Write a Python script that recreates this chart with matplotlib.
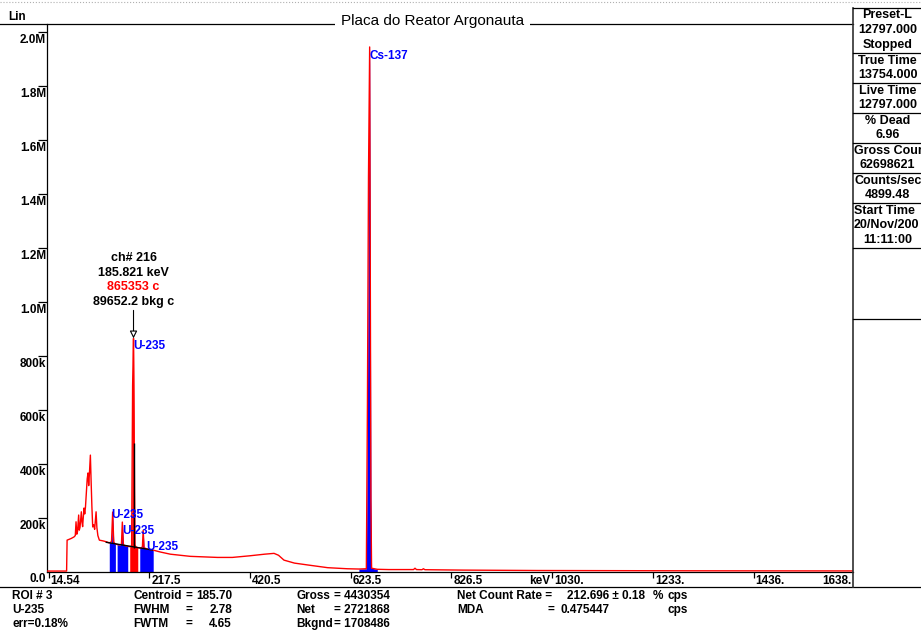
import numpy as np
import matplotlib
matplotlib.use("Agg")
import matplotlib.pyplot as plt
from matplotlib.transforms import ScaledTranslation

# gamma spectrum, energy (keV) vs counts per channel
energy_kev = [11.5, 51.0, 52.0, 60.0, 66.0, 68.5,
              70.0, 71.5, 73.0, 75.3, 76.5, 78.0, 80.7, 82.0, 83.3, 84.5, 86.1, 87.5,
              89.0, 91.0, 92.5, 94.2, 95.5, 97.0, 98.9, 100.5, 102.0, 103.6, 105.5,
              107.5, 110.4, 112.0, 114.0, 117.0, 125.0, 131.0,
              137.0, 141.5, 143.8, 146.0, 149.3,
              152.8, 158.0, 161.5, 163.3, 165.5, 170.0, 174.2,
              178.2, 182.0, 184.0, 185.821, 187.0, 188.5, 191.0, 194.4,
              198.4, 202.0, 203.8, 205.3, 207.0, 212.0, 225.5,
              240.0, 260.0, 300.0, 355.0, 385.0, 420.0, 450.0, 469.0, 478.0, 489.0,
              510.0, 537.0, 577.0, 617.0,
              640.0, 655.0, 657.2, 659.3, 661.66, 663.0, 664.2, 665.5, 677.0,
              700.0, 750.0, 753.0, 756.0, 767.0, 770.0, 773.0, 850.0, 1000.0, 1300.0, 1635.6]
counts = [3500, 3500, 118000, 124000, 130000, 135000,
          186000, 140000, 150000, 211000, 155000, 165000, 223000, 185000, 168000, 200000, 237000, 215000,
          240000, 300000, 345000, 367000, 320000, 365000, 433000, 330000, 240000, 167000, 175000,
          158000, 223000, 165000, 135000, 118000, 115000, 112000,
          108000, 112000, 222000, 110000, 104000,
          102000, 100000, 103000, 185000, 100000, 97000, 95000,
          94000, 95000, 690000, 865353, 540000, 100000, 92000, 90000,
          89000, 88000, 95000, 155000, 90000, 86000, 81000,
          74000, 66000, 58000, 54000, 54000, 60000, 66000, 69000, 62000, 44000,
          33000, 26000, 16000, 12000,
          11000, 12000, 626000, 1464000, 1945000, 1060000, 267000, 14000, 10000,
          9000, 9000, 14000, 9000, 8500, 12000, 8500, 7000, 5500, 4500, 4000]

# regions of interest (keV); the selected one is drawn in red
roi_lo = [137.0, 152.8, 178.2, 198.4, 640.0]
roi_hi = [149.3, 174.2, 194.4, 225.5, 677.0]
roi_selected = [False, False, True, False, False]

# identified peaks
peak_names = ["U-235", "U-235", "U-235", "U-235", "Cs-137"]
peak_kev = [143.8, 163.3, 185.821, 205.3, 661.66]
label_dx = [-1, 0, 0, 3, 0]      # label offsets, pixels
label_dy = [3, -3, -2, -11, -3]

# ROI continuum line under the U-235 group
bkg_kev = [131.0, 224.0]
bkg_counts = [110000, 81500]

# cursor readout
cursor_channel = 216
cursor_kev = 185.821
cursor_counts = 865353
cursor_bkg = 89652.2
cursor_bar_top = 478000

x_ticks = [14.54, 217.5, 420.46, 623.42, 826.38, 1029.34, 1232.3, 1435.26, 1638.22]
x_tick_labels = ["14.54", "217.5", "420.5", "623.5", "826.5", "1030.", "1233.", "1436.", "1638."]
y_ticks = [0, 200e3, 400e3, 600e3, 800e3, 1.0e6, 1.2e6, 1.4e6, 1.6e6, 1.8e6, 2.0e6]
y_tick_labels = ["0.0", "200k", "400k", "600k", "800k", "1.0M", "1.2M", "1.4M", "1.6M", "1.8M", "2.0M"]

panel_rows = [["Preset-L", "12797.000", "Stopped"],
              ["True Time", "13754.000"],
              ["Live Time", "12797.000"],
              ["% Dead", "6.96"],
              ["Gross Cour", "62698621"],
              ["Counts/sec", "4899.48"],
              ["Start Time", "20/Nov/200", "11:11:00"]]

roi_number = 3
roi_nuclide = "U-235"
roi_err = "0.18%"
centroid = "185.70"
fwhm = "2.78"
fwtm = "4.65"
gross = "4430354"
net = "2721868"
bkgnd = "1708486"
net_rate = "212.696 ± 0.18"
mda = "0.475447"

plt.rcParams['font.family'] = ['Liberation Sans', 'DejaVu Sans']
ui = dict(fontsize=8.5, fontweight='bold')
ui_big = dict(fontsize=9, fontweight='bold')
W, H = 921, 632

E = np.array(energy_kev)
C = np.array(counts, dtype=float)

fig = plt.figure(figsize=(W / 100, H / 100), dpi=100)
fig.patch.set_facecolor('white')

# spectrum axes, pixel box 47..853 x 24..572
ax = fig.add_axes([47 / W, 60 / H, 806 / W, 548 / H])
ax.set_xlim(11.5, 1635.6)
ax.set_ylim(0, 2.03e6)
for s in ['top', 'right']:
    ax.spines[s].set_visible(False)
for s in ['left', 'bottom']:
    ax.spines[s].set_linewidth(0.9)

for lo, hi, sel in zip(roi_lo, roi_hi, roi_selected):
    m = (E >= lo) & (E <= hi)
    ax.fill_between(E[m], 0, C[m], color='#ff0000' if sel else '#0000ff', lw=0, zorder=2)

ax.plot(E, C, color='#ff0000', lw=1.0, zorder=3)
ax.plot(bkg_kev, bkg_counts, color='black', lw=1.0, zorder=4)
ax.vlines(cursor_kev + 0.6, cursor_bkg, cursor_bar_top, color='black', lw=1.0, zorder=4)

# peak labels
for name, pk, dx, dy in zip(peak_names, peak_kev, label_dx, label_dy):
    top = C[energy_kev.index(pk)]
    ax.annotate(name, xy=(pk, top), xytext=(dx * 0.72, dy * 0.72), textcoords='offset points',
                ha='left', va='top', color='#0000ff', zorder=5, **ui)

# cursor marker and readout
ax.annotate('', xy=(cursor_kev, cursor_counts), xytext=(0, 28 * 0.72), textcoords='offset points',
            arrowprops=dict(arrowstyle='-|>', fc='white', ec='black', lw=0.8,
                            mutation_scale=11, shrinkA=0, shrinkB=0), zorder=6)
readout = [("ch# %d" % cursor_channel, 'black'),
           ("%.3f keV" % cursor_kev, 'black'),
           ("%d c" % cursor_counts, '#ff0000'),
           ("%.1f bkg c" % cursor_bkg, 'black')]
for i, (txt, col) in enumerate(readout):
    ax.annotate(txt, xy=(cursor_kev, cursor_counts), xytext=(0, (80.4 - 14.7 * i) * 0.72),
                textcoords='offset points', ha='center', va='center', color=col, zorder=6, **ui_big)

# ticks: marks from matplotlib, labels placed beside them
ax.set_xticks([t for t in x_ticks if t <= ax.get_xlim()[1]])
ax.set_yticks(y_ticks[1:])
ax.tick_params(axis='y', direction='out', length=6.5, width=0.9, labelleft=False)
ax.tick_params(axis='x', direction='out', length=4.5, width=0.9, labelbottom=False)

px = lambda dx, dy: ScaledTranslation(dx / 100, dy / 100, fig.dpi_scale_trans)
for v, lab in zip(y_ticks, y_tick_labels):
    ax.text(0, v, lab, transform=ax.get_yaxis_transform() + px(-1, -1.5),
            ha='right', va='top', **ui)
xmax = ax.get_xlim()[1]
for v, lab in zip(x_ticks, x_tick_labels):
    if v <= xmax:
        ax.text(v, 0, lab, transform=ax.get_xaxis_transform() + px(2, -3),
                ha='left', va='top', **ui)
    else:
        ax.text(1, 0, lab, transform=ax.transAxes + px(-2, -3), ha='right', va='top', **ui)
ax.text(x_ticks[5], 0, "keV", transform=ax.get_xaxis_transform() + px(-1.5, -3),
        ha='right', va='top', **ui)

# window frame, status panel and ROI report, in pixel coordinates
ov = fig.add_axes([0, 0, 1, 1])
ov.set_xlim(0, W)
ov.set_ylim(H, 0)
ov.axis('off')
ov.patch.set_visible(False)

ov.plot([0, W], [2, 2], color='#b0b0b0', lw=0.8, ls=':')
ov.plot([0, 853], [24, 24], color='black', lw=0.9)
ov.plot([0, W], [587, 587], color='black', lw=0.9)
ov.plot([853, 853], [8, 587], color='#303030', lw=1.2)
ov.plot([853, W], [8, 8], color='black', lw=0.9)
ov.text(432.5, 21.5, "Placa do Reator Argonauta", fontsize=11, ha='center', va='center',
        bbox=dict(fc='white', ec='none', pad=4))
ov.text(8, 17, "Lin", ha='left', va='center', **ui)

top = 8
for row in panel_rows:
    for i, txt in enumerate(row):
        y = top + 7.5 + 14.7 * i
        if len(txt) >= 10:
            ov.text(854, y, txt, ha='left', va='center', **ui_big)
        else:
            ov.text(887.5, y, txt, ha='center', va='center', **ui_big)
    top += 15 * len(row)
    ov.plot([853, W], [top, top], color='black', lw=0.9)
ov.plot([853, W], [318.5, 318.5], color='black', lw=0.9)

report = [(12, 596, "ROI # %d" % roi_number, 'left'),
          (12, 610, roi_nuclide, 'left'),
          (12, 624, "err=" + roi_err, 'left'),
          (133, 596, "Centroid", 'left'), (185, 596, "=", 'left'), (232, 596, centroid, 'right'),
          (133, 610, "FWHM", 'left'), (185, 610, "=", 'left'), (232, 610, fwhm, 'right'),
          (133, 624, "FWTM", 'left'), (185, 624, "=", 'left'), (232, 624, fwtm, 'right'),
          (296, 596, "Gross", 'left'), (334, 596, "= " + gross, 'left'),
          (296, 610, "Net", 'left'), (334, 610, "= " + net, 'left'),
          (296, 624, "Bkgnd", 'left'), (334, 624, "= " + bkgnd, 'left'),
          (457, 596, "Net Count Rate =", 'left'), (567, 596, net_rate, 'left'),
          (653, 596, "%", 'left'), (667, 596, "cps", 'left'),
          (457, 610, "MDA", 'left'), (547, 610, "=", 'left'), (560, 610, mda, 'left'),
          (667, 610, "cps", 'left')]
for x, y, txt, ha in report:
    ov.text(x, y, txt, ha=ha, va='center', **ui)

fig.savefig("out.png", dpi=100, facecolor='white')
